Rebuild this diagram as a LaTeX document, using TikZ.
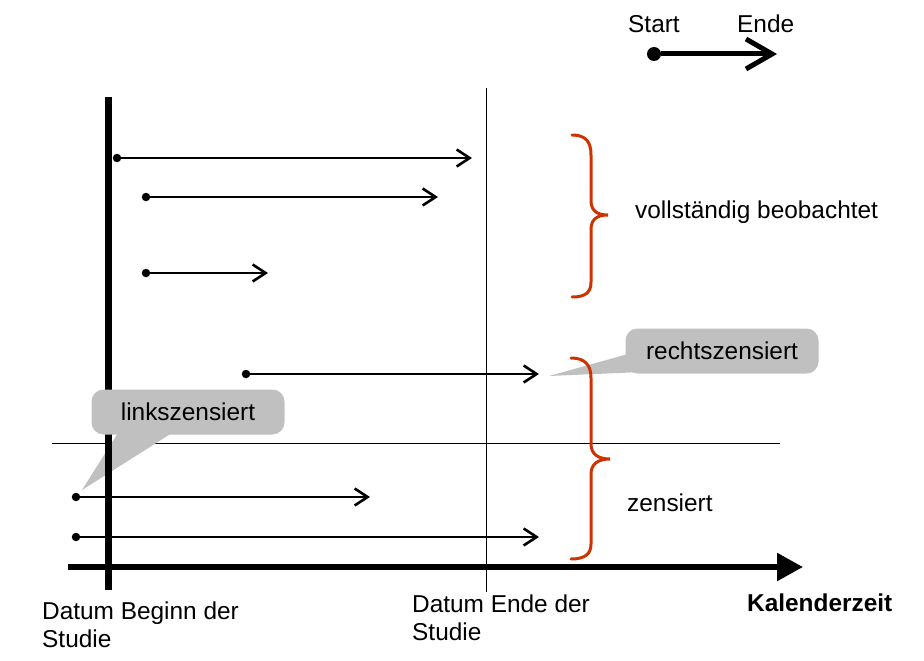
\documentclass[tikz,border=0pt]{standalone}
\usepackage{fontspec}
\setmainfont{Liberation Sans}
\usetikzlibrary{arrows.meta}
\definecolor{bracered}{RGB}{204,51,0}
\definecolor{calloutgray}{RGB}{192,192,192}
\newcommand\lblfont{\fontsize{24.4}{28}\selectfont}

\begin{document}
\begin{tikzpicture}[x=1pt, y=-1pt,
    txt/.style={font=\lblfont, inner sep=0pt, anchor=base west, align=left},
    dot/.style={circle, fill=black, inner sep=0pt, minimum size=8.5pt},
    span/.style={line width=2.6pt, -{Straight Barb[length=13pt,width=17pt]}},
    callout/.style={fill=calloutgray, rounded corners=12pt, minimum width=193pt, minimum height=45pt, inner sep=0pt, font=\lblfont},
    brace/.style={draw=bracered, line width=3pt, line cap=round}]

    \useasboundingbox (0,0) rectangle (924,661) ;

    % study window
    \draw [line width=1pt] (486,88) -- (486,592) ;
    \draw [line width=1pt] (52,443) -- (780,443) ;

    % callout pointers
    \coordinate (tipL) at (82,490) ;
    \coordinate (tipR) at (549,376) ;
    \fill [calloutgray] (118,433) -- (tipL) -- (172,433) -- cycle ;
    \fill [calloutgray] (628,354) -- (tipR) -- (642,372) -- cycle ;

    % braces
    \draw [brace] (572,135) .. controls (586,135) and (591,142) .. (591,155) -- (591,200)
        .. controls (591,210) and (596,215) .. (608,215) .. controls (596,215) and (591,220) .. (591,230)
        -- (591,282) .. controls (591,292) and (586,297) .. (572,297) ;
    \draw [brace] (571,358) .. controls (585,358) and (591,365) .. (591,378) -- (591,444)
        .. controls (591,454) and (598,459) .. (610,459) .. controls (598,459) and (591,464) .. (591,474)
        -- (591,544) .. controls (591,554) and (585,559) .. (571,559) ;

    % time axis and study start
    \coordinate (beginTop) at (108,97) ;
    \coordinate (beginBot) at (108,590) ;
    \coordinate (axisL) at (68,567) ;
    \coordinate (axisR) at (803,567) ;
    \draw [line width=7pt] (beginTop) -- (beginBot) ;
    \draw [line width=5.5pt, -{Triangle[length=26pt,width=27pt]}] (axisL) -- (axisR) ;

    \node [callout] (links) at (188,412) {linkszensiert} ;
    \node [callout] (rechts) at (722,351) {rechtszensiert} ;

    % observed spans
    \node [dot] (s1) at (117,158) {} ; \coordinate (e1) at (472,158) ;
    \node [dot] (s2) at (146,197) {} ; \coordinate (e2) at (438,197) ;
    \node [dot] (s3) at (146,273) {} ; \coordinate (e3) at (268,273) ;
    \node [dot] (s4) at (246,374) {} ; \coordinate (e4) at (539,374) ;
    \node [dot] (s5) at (76,497) {} ;  \coordinate (e5) at (370,497) ;
    \node [dot] (s6) at (76,537) {} ;  \coordinate (e6) at (539,537) ;
    \draw [span] (s1) -- (e1) ;
    \draw [span] (s2) -- (e2) ;
    \draw [span] (s3) -- (e3) ;
    \draw [span] (s4) -- (e4) ;
    \draw [span] (s5) -- (e5) ;
    \draw [span] (s6) -- (e6) ;

    % legend
    \node [dot, minimum size=14pt] (start) at (654,54) {} ;
    \coordinate (ende) at (777,54) ;
    \draw [line width=5pt, -{Straight Barb[length=26pt,width=30pt]}] (start) -- (ende) ;
    \node [txt] (startLbl) at (628,33) {Start} ;
    \node [txt] (endeLbl) at (737,33) {Ende} ;

    % labels
    \node [txt] (voll) at (635,218) {vollständig beobachtet} ;
    \node [txt] (zens) at (627,511) {zensiert} ;
    \node [txt] (beginnLbl) at (42,647) {Datum Beginn der\\Studie} ;
    \node [txt] (endLbl) at (412,640) {Datum Ende der\\Studie} ;
    \node [txt, font=\lblfont\bfseries] (kal) at (747,611) {Kalenderzeit} ;
\end{tikzpicture}
\end{document}
